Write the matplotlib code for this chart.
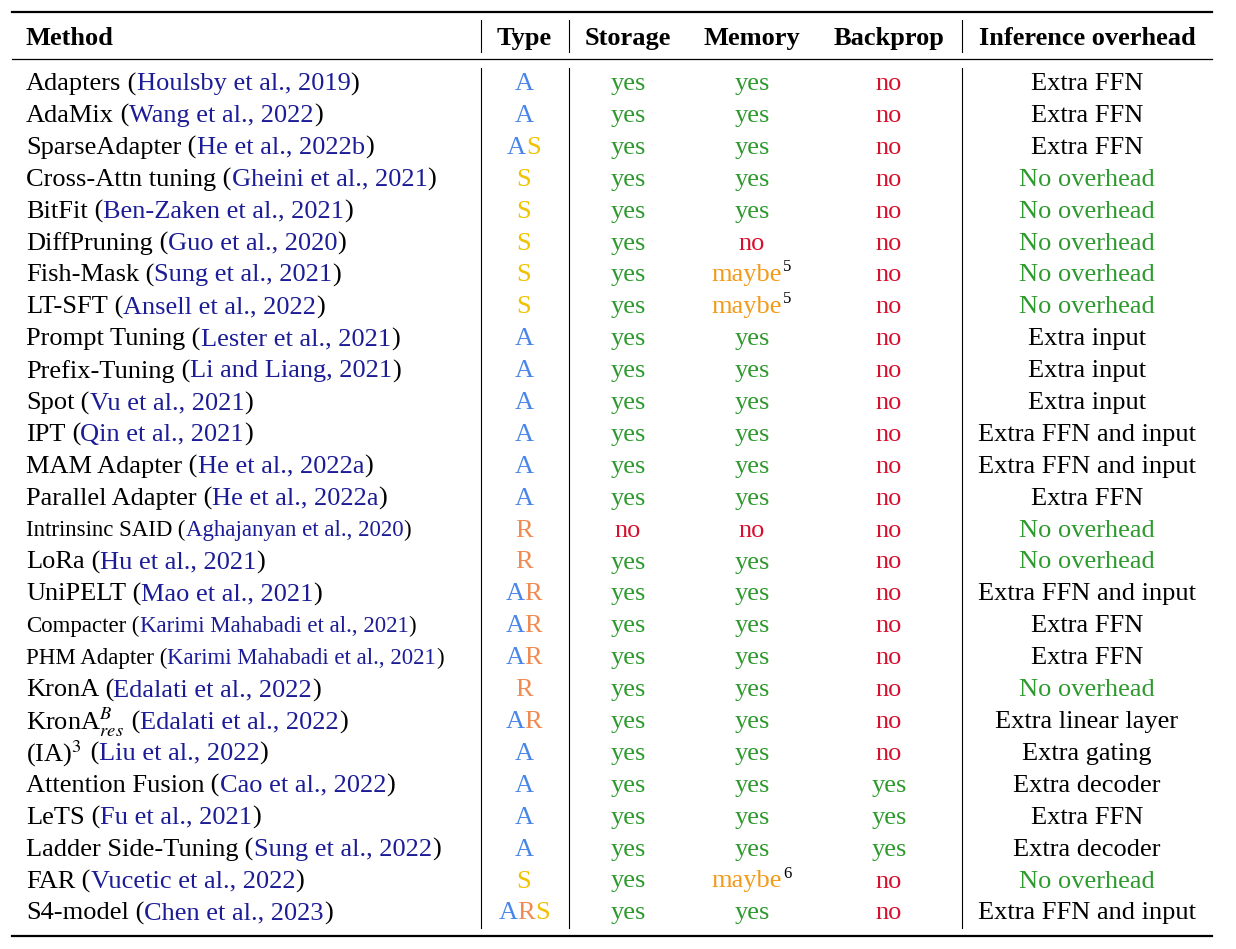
import matplotlib
matplotlib.use("Agg")
import matplotlib.pyplot as plt

plt.rcParams['font.family'] = ['Liberation Serif', 'DejaVu Serif']
plt.rcParams['mathtext.fontset'] = 'stix'

BLUE_A = "#4a86e8"
YEL_S = "#f2c200"
ORG_R = "#f08a50"
GREEN = "#2e9a2e"
RED = "#d6102e"
MAYBE = "#f39a1a"
CITE = "#1c1c96"

methods = ["Adapters", "AdaMix", "SparseAdapter", "Cross-Attn tuning", "BitFit",
           "DiffPruning", "Fish-Mask", "LT-SFT", "Prompt Tuning", "Prefix-Tuning",
           "Spot", "IPT", "MAM Adapter", "Parallel Adapter", "Intrinsinc SAID",
           "LoRa", "UniPELT", "Compacter", "PHM Adapter", "KronA",
           "KronA$^{B}_{res}$", "(IA)$^{3}$", "Attention Fusion", "LeTS",
           "Ladder Side-Tuning", "FAR", "S4-model"]
cites = ["Houlsby et al., 2019", "Wang et al., 2022", "He et al., 2022b",
         "Gheini et al., 2021", "Ben-Zaken et al., 2021", "Guo et al., 2020",
         "Sung et al., 2021", "Ansell et al., 2022", "Lester et al., 2021",
         "Li and Liang, 2021", "Vu et al., 2021", "Qin et al., 2021",
         "He et al., 2022a", "He et al., 2022a", "Aghajanyan et al., 2020",
         "Hu et al., 2021", "Mao et al., 2021", "Karimi Mahabadi et al., 2021",
         "Karimi Mahabadi et al., 2021", "Edalati et al., 2022",
         "Edalati et al., 2022", "Liu et al., 2022", "Cao et al., 2022",
         "Fu et al., 2021", "Sung et al., 2022", "Vucetic et al., 2022",
         "Chen et al., 2023"]
small_rows = ["Intrinsinc SAID", "Compacter", "PHM Adapter"]
types = ["A", "A", "AS", "S", "S", "S", "S", "S", "A", "A", "A", "A", "A", "A",
         "R", "R", "AR", "AR", "AR", "R", "AR", "A", "A", "A", "A", "S", "ARS"]
storage = ["yes"] * 14 + ["no"] + ["yes"] * 12
memory = ["yes", "yes", "yes", "yes", "yes", "no", "maybe5", "maybe5", "yes",
          "yes", "yes", "yes", "yes", "yes", "no", "yes", "yes", "yes", "yes",
          "yes", "yes", "yes", "yes", "yes", "yes", "maybe6", "yes"]
backprop = ["no"] * 22 + ["yes", "yes", "yes", "no", "no"]
overhead = ["Extra FFN", "Extra FFN", "Extra FFN", "No overhead", "No overhead",
            "No overhead", "No overhead", "No overhead", "Extra input",
            "Extra input", "Extra input", "Extra FFN and input",
            "Extra FFN and input", "Extra FFN", "No overhead", "No overhead",
            "Extra FFN and input", "Extra FFN", "Extra FFN", "No overhead",
            "Extra linear layer", "Extra gating", "Extra decoder", "Extra FFN",
            "Extra decoder", "No overhead", "Extra FFN and input"]

W, H = 1236, 949
fig = plt.figure(figsize=(W / 100, H / 100), dpi=100)
ax = fig.add_axes([0, 0, 1, 1])
ax.set_xlim(0, W)
ax.set_ylim(H, 0)
ax.axis("off")
renderer = fig.canvas.get_renderer()

FS = 19


def width(s, size, weight="normal"):
    t = ax.text(0, 0, s, fontsize=size, fontweight=weight)
    w = t.get_window_extent(renderer).width
    t.remove()
    return w


def draw_segs(x, y, segs, ha="left", size=FS, weight="normal"):
    # segment position = width of preceding text (measured with a sentinel)
    full = "".join(s for s, c in segs)
    ref = width("x", size, weight)
    total = width(full + "x", size, weight) - ref
    x0 = x - total / 2 if ha == "center" else x
    pre = ""
    for s, c in segs:
        off = width(pre + "x", size, weight) - ref if pre else 0
        ax.text(x0 + off, y, s, color=c, fontsize=size, va="center",
                ha="left", fontweight=weight)
        pre += s
    return x0 + total


type_col = {"A": BLUE_A, "S": YEL_S, "R": ORG_R}
yn_col = {"yes": GREEN, "no": RED}

# rules
ax.plot([12, 1212], [12, 12], color="k", lw=1.6)
ax.plot([12, 1212], [59, 59], color="k", lw=0.9)
ax.plot([12, 1212], [936, 936], color="k", lw=1.6)
for vx in [481, 569, 962]:
    ax.plot([vx, vx], [20, 52], color="k", lw=0.8)
    ax.plot([vx, vx], [68, 928], color="k", lw=0.8)

X_M, X_T, X_S, X_ME, X_B, X_O = 26, 524, 628, 752, 889, 1087
hy = 38
draw_segs(X_M, hy, [("Method", "k")], weight="bold")
for x, s in [(X_T, "Type"), (X_S, "Storage"), (X_ME, "Memory"),
             (X_B, "Backprop"), (X_O, "Inference overhead")]:
    draw_segs(x, hy, [(s, "k")], ha="center", weight="bold")

y0, dy = 84, 31.9
for i in range(len(methods)):
    y = y0 + i * dy
    sz = 16.5 if methods[i] in small_rows else FS
    draw_segs(X_M, y, [(methods[i], "k"), (" (", "k"), (cites[i], CITE), (")", "k")], size=sz)
    draw_segs(X_T, y, [(ch, type_col[ch]) for ch in types[i]], ha="center")
    draw_segs(X_S, y, [(storage[i], yn_col[storage[i]])], ha="center")
    m = memory[i]
    if m.startswith("maybe"):
        end = draw_segs(X_ME - 5, y, [("maybe", MAYBE)], ha="center")
        ax.text(end + 1, y - 8, m[-1], fontsize=12, va="center", ha="left", color="k")
    else:
        draw_segs(X_ME, y, [(m, yn_col[m])], ha="center")
    draw_segs(X_B, y, [(backprop[i], yn_col[backprop[i]])], ha="center")
    oc = GREEN if overhead[i] == "No overhead" else "k"
    draw_segs(X_O, y, [(overhead[i], oc)], ha="center")

fig.savefig("out.png", dpi=100)
